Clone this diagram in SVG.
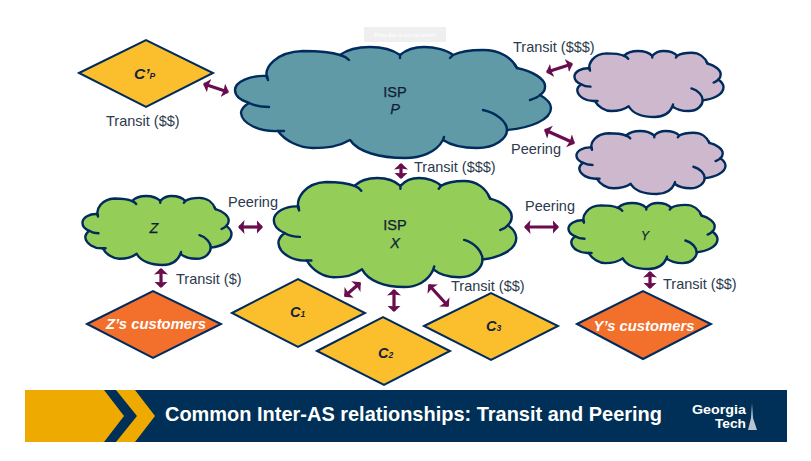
<svg xmlns="http://www.w3.org/2000/svg" width="811" height="461" viewBox="0 0 811 461">
<style>
text{font-family:"Liberation Sans",Arial,sans-serif}
.lbl{font-size:14.5px;fill:#2b3a4c}
.nm{font-size:14.5px;fill:#0f1e36;text-anchor:middle;stroke:#0f1e36;stroke-width:.25}
.it{font-style:italic}
.bi{font-style:italic;font-weight:bold;fill:#14233a}
.cust{font-size:14.8px;font-style:italic;font-weight:bold;fill:#fff;text-anchor:middle}
.cl path{stroke:#002b5c;stroke-width:2.4;stroke-linejoin:round;vector-effect:non-scaling-stroke}
.cl .tick{fill:none;stroke-linecap:round}
.dia{stroke:#002b5c;stroke-width:2;stroke-linejoin:miter}
.y{fill:#fbbf2d}.o{fill:#f26f2c}
.teal{fill:#5f9aa6}.pur{fill:#cdb8cd}.grn{fill:#94cd58}
.ar line{stroke:#6a0d4e;stroke-width:3.2;marker-start:url(#h);marker-end:url(#h)}
</style>
<defs>
<marker id="h" markerUnits="userSpaceOnUse" markerWidth="9" markerHeight="16" viewBox="0 0 9 16" refX="5.5" refY="8" orient="auto-start-reverse">
<path d="M0,1 L6.5,8 L0,15 L1,8 Z" fill="#6a0d4e"/>
</marker>
<g id="cloud" class="cl">
<path d="M267,78 C264,68 275,52 303,51 C317,51 331,52 340,55 C348,49 360,47 370,47 C382,47 393,50 400,55 C407,49 414,47 424,47 C435,47 447,50 453,55 C461,51 472,50 483,50 C500,50 512,58 517,68 C532,71 546,79 545,87 C545,91 543,93 540,95 C547,99 551,103 551,108 C551,120 530,128 507,130 C507,138 496,148 477,148 C465,148 452,146 443,140 C436,153 420,158 405,158 C380,158 358,152 350,140 C338,147 327,148 313,148 C300,148 285,141 278,131 C260,132 242,124 241,113 C241,109 244,106 249,103 C240,100 235,95 235,90 C235,82 250,75 267,76 Z"/>
<path class="tick" d="M267,76 L268,80 M340,55 C344,56 347,58 349,60 M400,55 L400,58 M453,55 L450,58 M517,68 L515,65 M540,95 C537,98 533,99 530,100 M483,110 C497,113 507,122 507,130 M443,140 L444,137 M278,131 L284,131 M249,103 C255,106 262,107 269,107"/>
</g>
</defs>
<rect width="811" height="461" fill="#fff"/>
<g id="notice">
<rect x="364" y="27" width="82" height="15" fill="#efefef"/>
<text x="405" y="37" font-size="5" fill="#fff" text-anchor="middle">Press Esc to exit full screen</text>
</g>
<g id="connectors" class="ar">
<line x1="204" y1="84" x2="228" y2="92"/>
<line x1="547" y1="72" x2="572" y2="64"/>
<line x1="545" y1="130" x2="574" y2="143"/>
<line x1="401" y1="164" x2="401" y2="178"/>
<line x1="239" y1="227" x2="262" y2="227"/>
<line x1="525" y1="227" x2="558" y2="227"/>
<line x1="161" y1="269" x2="161" y2="287"/>
<line x1="345" y1="296" x2="360" y2="283"/>
<line x1="394" y1="290" x2="394" y2="311"/>
<line x1="429" y1="285" x2="448" y2="306"/>
<line x1="650" y1="272" x2="650" y2="288"/>
</g>
<g id="ispP"><use href="#cloud" class="teal"/>
<text class="nm" x="395" y="97">ISP</text><text class="nm it" x="395" y="114">P</text></g>
<g id="cloudA"><use href="#cloud" class="pur" transform="translate(463.6,23.05) scale(.4717,.5946)"/></g>
<g id="cloudB"><use href="#cloud" class="pur" transform="translate(465.6,104.3) scale(.4717,.5676)"/></g>
<g id="ispX"><use href="#cloud" class="grn" transform="translate(93.5,131.85) scale(.7673,.982)"/>
<text class="nm" x="395" y="230">ISP</text><text class="nm it" x="395" y="248">X</text></g>
<g id="Z"><use href="#cloud" class="grn" transform="translate(-28.4,166.8) scale(.4717,.6216)"/>
<text class="nm it" x="154" y="233">Z</text></g>
<g id="Y"><use href="#cloud" class="grn" transform="translate(457.6,175.1) scale(.4717,.5946)"/>
<text class="nm it" x="645" y="240" style="font-size:12px">Y</text></g>
<g id="Cp"><polygon class="dia y" points="79,73 146,40 213,73 146,107"/>
<text class="bi" x="134" y="79" font-size="15.5">C’<tspan font-size="8.5">P</tspan></text></g>
<g id="Zc"><polygon class="dia o" points="87,324 153,291 221,324 153,358"/>
<text class="cust" x="156" y="329">Z’s customers</text></g>
<g id="C1"><polygon class="dia y" points="232,313 298,279 365,313 298,347"/>
<text class="bi" x="290" y="317" font-size="14.5">C<tspan font-size="8.5">1</tspan></text></g>
<g id="C2"><polygon class="dia y" points="317,351 383,317 450,351 384,385"/>
<text class="bi" x="378" y="358" font-size="14.5">C<tspan font-size="8.5">2</tspan></text></g>
<g id="C3"><polygon class="dia y" points="424,326 491,293 558,326 491,360"/>
<text class="bi" x="486" y="331" font-size="14.5">C<tspan font-size="8.5">3</tspan></text></g>
<g id="Yc"><polygon class="dia o" points="577,324 643,291 711,324 643,359"/>
<text class="cust" x="644" y="331">Y’s customers</text></g>
<g id="labels">
<text class="lbl" x="106" y="126">Transit ($$)</text>
<text class="lbl" x="513" y="52">Transit ($$$)</text>
<text class="lbl" x="511" y="154">Peering</text>
<text class="lbl" x="414" y="172">Transit ($$$)</text>
<text class="lbl" x="228" y="207">Peering</text>
<text class="lbl" x="176" y="284">Transit ($)</text>
<text class="lbl" x="525" y="211">Peering</text>
<text class="lbl" x="451" y="291">Transit ($$)</text>
<text class="lbl" x="663" y="289">Transit ($$)</text>
</g>
<g id="banner">
<rect x="25" y="390" width="762" height="52" fill="#003057"/>
<polygon points="25,390 104,390 124,416 104,442 25,442" fill="#eeaa00"/>
<polygon points="116,390 135,390 155,416 135,442 116,442 137,416" fill="#eeaa00"/>
<text x="165" y="421" font-size="20.5" font-weight="bold" fill="#fff" textLength="497" lengthAdjust="spacingAndGlyphs">Common Inter-AS relationships: Transit and Peering</text>
<text x="692" y="413.5" font-size="12" font-weight="bold" fill="#fff" textLength="54" lengthAdjust="spacingAndGlyphs">Georgia</text>
<text x="715" y="427.5" font-size="12" font-weight="bold" fill="#fff" textLength="31" lengthAdjust="spacingAndGlyphs">Tech</text>
<polygon points="752,403 753,418 757,430 748,430 751,418" fill="#b8c4ce"/>
</g>
</svg>
